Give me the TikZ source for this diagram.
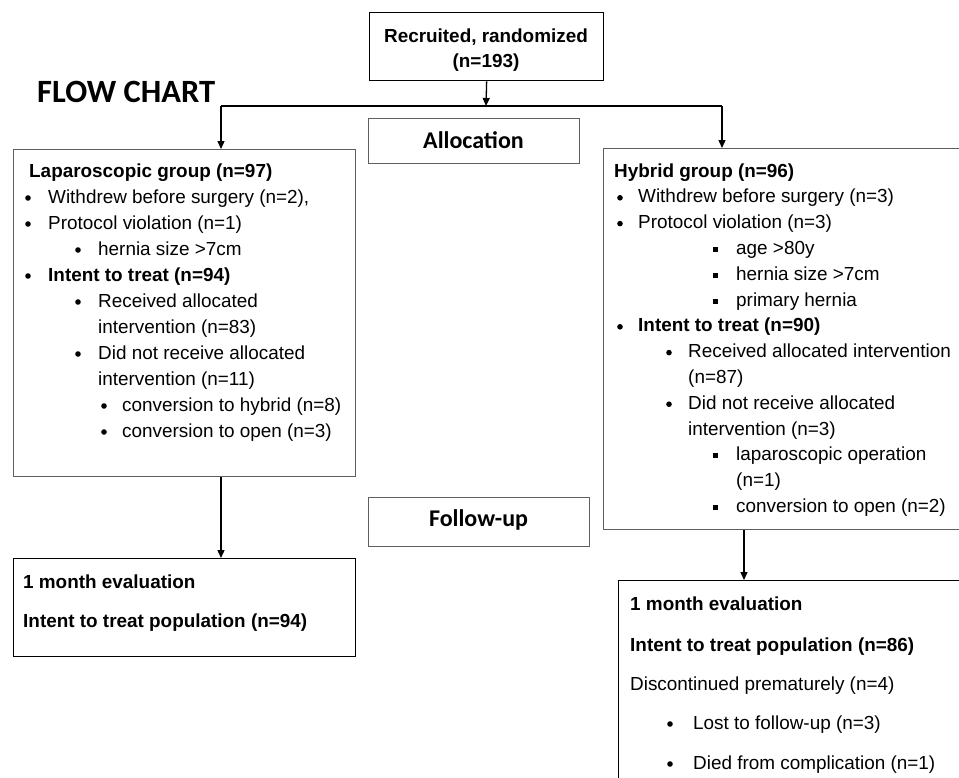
\documentclass[tikz,border=0pt]{standalone}
\usepackage{fontspec}
\setmainfont{Liberation Sans}
\newfontfamily\calibrifont{Carlito}
\usetikzlibrary{arrows.meta}
\definecolor{boxgray}{RGB}{95,95,95}
\newcommand{\bodyfont}{\fontsize{18.9}{26}\selectfont}
\begin{document}
\begin{tikzpicture}[x=1pt,y=-1pt,
  box/.style={draw=black, line width=1.3pt, inner sep=0pt, anchor=north west, rectangle},
  gbox/.style={box, draw=boxgray},
  txt/.style={anchor=base west, inner sep=0pt, font=\bodyfont},
  btxt/.style={anchor=base west, inner sep=0pt, font=\bodyfont\bfseries},
  ctxt/.style={anchor=base, inner sep=0pt, font=\bodyfont\bfseries},
  head/.style={anchor=base, inner sep=0pt, font=\calibrifont\bfseries\fontsize{24}{28}\selectfont},
  arr/.style={-{Triangle[length=8pt,width=7pt]}, line width=1.3pt},
  plain/.style={line width=1.3pt},
  dot/.style={fill=black},
]
\clip (0,0) rectangle (959,777);
\fill[white] (0,0) rectangle (959,777);

% title
\node[anchor=base west, inner sep=0pt, font=\calibrifont\bfseries\fontsize{32.5}{36}\selectfont] (title) at (37,102) {FLOW CHART};

% boxes
\node[box, minimum width=234pt, minimum height=68pt] (top) at (369,12) {};
\node[gbox, minimum width=211pt, minimum height=45pt] (alloc) at (368,118) {};
\node[gbox, minimum width=342pt, minimum height=327pt] (left) at (13,149) {};
\node[gbox, minimum width=400pt, minimum height=381pt] (right) at (603,148) {};
\node[gbox, minimum width=221pt, minimum height=49pt] (follow) at (368,497) {};
\node[box, minimum width=342pt, minimum height=98pt] (bl) at (13,558) {};
\node[box, minimum width=400pt, minimum height=250pt] (br) at (618,580) {};

% top box text
\node[ctxt] (t1) at (486,42) {Recruited, randomized};
\node[ctxt] (t2) at (486,67) {(n=193)};

% section labels
\node[head] (alloctxt) at (473.5,148) {Allocation};
\node[head] (followtxt) at (478.5,526) {Follow-up};

% left box text
\node[btxt] (l1) at (29,177) {Laparoscopic group (n=97)};
\fill[dot] (28,198) circle (2.8);
\node[txt] (l2) at (48,203) {Withdrew before surgery (n=2),};
\fill[dot] (28,224) circle (2.8);
\node[txt] (l3) at (48,229) {Protocol violation (n=1)};
\fill[dot] (78,250) circle (2.8);
\node[txt] (l4) at (98,255) {hernia size >7cm};
\fill[dot] (28,276) circle (2.8);
\node[btxt] (l5) at (48,281) {Intent to treat (n=94)};
\fill[dot] (78,302) circle (2.8);
\node[txt] (l6) at (98,307) {Received allocated};
\node[txt] (l7) at (98,333) {intervention (n=83)};
\fill[dot] (78,354) circle (2.8);
\node[txt] (l8) at (98,359) {Did not receive allocated};
\node[txt] (l9) at (98,385) {intervention (n=11)};
\fill[dot] (104,406) circle (2.8);
\node[txt] (l10) at (122,411) {conversion to hybrid (n=8)};
\fill[dot] (104,432) circle (2.8);
\node[txt] (l11) at (122,437) {conversion to open (n=3)};

% right box text
\node[btxt] (r1) at (614,177) {Hybrid group (n=96)};
\fill[dot] (620,197.8) circle (2.8);
\node[txt] (r2) at (638,202.8) {Withdrew before surgery (n=3)};
\fill[dot] (620,223.6) circle (2.8);
\node[txt] (r3) at (638,228.6) {Protocol violation (n=3)};
\fill[dot] (712.5,246.9) rectangle (717.5,251.9);
\node[txt] (r4) at (736,254.4) {age >80y};
\fill[dot] (712.5,272.7) rectangle (717.5,277.7);
\node[txt] (r5) at (736,280.2) {hernia size >7cm};
\fill[dot] (712.5,298.5) rectangle (717.5,303.5);
\node[txt] (r6) at (736,306) {primary hernia};
\fill[dot] (620,326.8) circle (2.8);
\node[btxt] (r7) at (638,331.8) {Intent to treat (n=90)};
\fill[dot] (669,352.6) circle (2.8);
\node[txt] (r8) at (688,357.6) {Received allocated intervention};
\node[txt] (r9) at (688,383.4) {(n=87)};
\fill[dot] (669,404.2) circle (2.8);
\node[txt] (r10) at (688,409.2) {Did not receive allocated};
\node[txt] (r11) at (688,435) {intervention (n=3)};
\fill[dot] (712.5,453.3) rectangle (717.5,458.3);
\node[txt] (r12) at (736,460.8) {laparoscopic operation};
\node[txt] (r13) at (736,486.6) {(n=1)};
\fill[dot] (712.5,504.9) rectangle (717.5,509.9);
\node[txt] (r14) at (736,512.4) {conversion to open (n=2)};

% bottom left text
\node[btxt] (b1) at (23,588) {1 month evaluation};
\node[btxt] (b2) at (23,627) {Intent to treat population (n=94)};

% bottom right text
\node[btxt] (c1) at (630,610) {1 month evaluation};
\node[btxt] (c2) at (630,651) {Intent to treat population (n=86)};
\node[txt] (c3) at (630,690) {Discontinued prematurely (n=4)};
\fill[dot] (670,724) circle (2.8);
\node[txt] (c4) at (693,729) {Lost to follow-up (n=3)};
\fill[dot] (670,764) circle (2.8);
\node[txt] (c5) at (693,769) {Died from complication (n=1)};

% connectors
\coordinate (jn) at (486,106);
\coordinate (jl) at (221,106);
\coordinate (jr) at (722,106);
\coordinate (jr2) at (744,0);
\draw[arr] (top.south) -- (jn);
\draw[plain] (jl) -- (jr);
\draw[arr] (jl) -- (jl |- left.north);
\draw[arr] (jr) -- (jr |- right.north);
\draw[arr] (jl |- left.south) -- (jl |- bl.north);
\draw[arr] (jr2 |- right.south) -- (jr2 |- br.north);
\end{tikzpicture}
\end{document}
